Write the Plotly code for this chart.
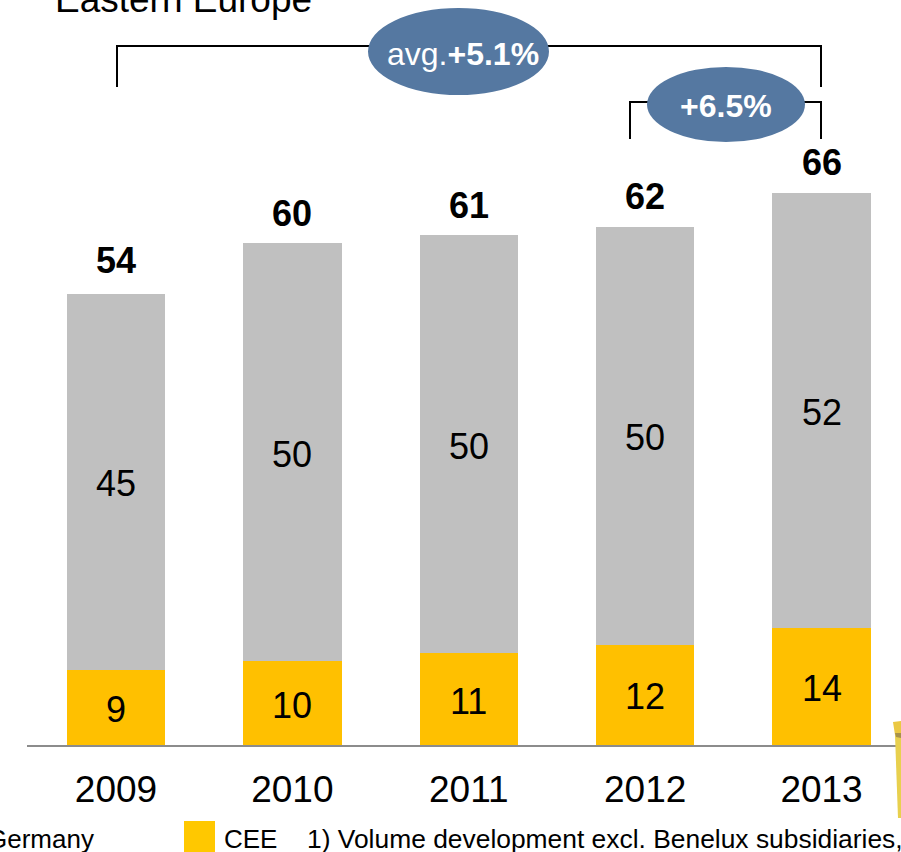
import plotly.graph_objects as go

W, H = 901, 852
years = ["2009", "2010", "2011", "2012", "2013"]
cee = [9, 10, 11, 12, 14]
germany = [45, 50, 50, 50, 52]
totals = [54, 60, 61, 62, 66]

GREY = "#C0C0C0"
AMBER = "#FFC000"
BLUE = "#5578A1"
FONT = "Liberation Sans, Arial, sans-serif"


def px(x):
    return x / W


def py(y):
    return 1 - y / H


fig = go.Figure()
fig.add_bar(x=years, y=cee, name="CEE", marker=dict(color=AMBER, line_width=0))
fig.add_bar(x=years, y=germany, name="Germany", marker=dict(color=GREY, line_width=0))


def line(points):
    """Open black bracket through page-pixel points."""
    path = "M " + " L ".join(f"{px(x)} {py(y)}" for x, y in points)
    return dict(type="path", xref="paper", yref="paper", path=path,
                line=dict(color="#000000", width=2), layer="above")


def filled(points, color):
    path = "M " + " L ".join(f"{px(x)} {py(y)}" for x, y in points) + " Z"
    return dict(type="path", xref="paper", yref="paper", path=path,
                fillcolor=color, line_width=0, layer="above")


def ellipse(x0, y0, x1, y1):
    return dict(type="circle", xref="paper", yref="paper",
                x0=px(x0), x1=px(x1), y0=py(y0), y1=py(y1),
                fillcolor=BLUE, line_width=0, layer="above")


shapes = [
    line([(117, 87), (117, 46), (821, 46), (821, 87)]),
    line([(630, 139), (630, 102), (821, 102), (821, 139)]),
    ellipse(368, 8, 549, 95),
    ellipse(647, 67, 805, 142),
    # legend swatch
    dict(type="rect", xref="paper", yref="paper",
         x0=px(184), x1=px(215), y0=py(821), y1=py(852),
         fillcolor="#FFC800", line_width=0),
    # edge of the packaging illustration on the right
    filled([(895, 735), (901, 735), (901, 818), (898, 818)], "#E8D04E"),
    filled([(893, 722), (901, 721), (901, 735), (895, 735)], "#EBC843"),
    filled([(895, 733), (901, 733), (901, 738), (896, 737)], "#A8924A"),
]


def label(text, x, y, size, xanchor="left", color="#000000"):
    return dict(text=text, xref="paper", yref="paper", x=px(x), y=py(y),
                xanchor=xanchor, yanchor="middle", showarrow=False,
                font=dict(size=size, color=color, family=FONT))


def bar_label(index, y, text, yshift):
    # Category positions are addressed by index: the year strings read as numbers.
    return dict(text=text, x=index, y=y, xref="x", yref="y", yanchor="middle",
                showarrow=False, yshift=yshift,
                font=dict(size=36, color="#000000", family=FONT))


annotations = [
    label("Eastern Europe", 53, -1, 37),
    label("avg.<b>+5.1%</b>", 463, 54, 32, "center", "#FFFFFF"),
    label("<b>+6.5%</b>", 726, 106, 32, "center", "#FFFFFF"),
    label("Germany", 96, 839, 26, "right"),
    label("CEE", 222, 839, 26),
    label("1) Volume development excl. Benelux subsidiaries,", 305, 839, 26.4),
]

# Segment values sit mid-segment; totals float just above each stack.
total_offsets = [33, 30, 30, 30, 31]
for i, (c, g, t, off) in enumerate(zip(cee, germany, totals, total_offsets)):
    annotations.append(bar_label(i, c / 2, str(c), -2))
    annotations.append(bar_label(i, c + g / 2, str(g), -2))
    annotations.append(bar_label(i, t, f"<b>{t}</b>", off))

fig.update_layout(
    width=W, height=H, autosize=False,
    margin=dict(l=0, r=0, t=0, b=0, pad=0),
    paper_bgcolor="#FFFFFF", plot_bgcolor="#FFFFFF",
    barmode="stack", bargap=0.443, showlegend=False,
    font=dict(family=FONT, color="#000000"),
    shapes=shapes, annotations=annotations,
    xaxis=dict(domain=[px(27), 1], range=[-0.5045, 4.4505], type="category",
               categoryorder="array", categoryarray=years,
               showgrid=False, zeroline=False, showline=True,
               linecolor="#8C8C8C", linewidth=2,
               ticks="outside", ticklen=11, tickcolor="rgba(0,0,0,0)",
               tickfont=dict(size=37, color="#000000", family=FONT)),
    yaxis=dict(domain=[py(745), 1], range=[0, 745 / 8.36], visible=False,
               fixedrange=True),
)

fig.write_html("out.html", config={"displayModeBar": False})
